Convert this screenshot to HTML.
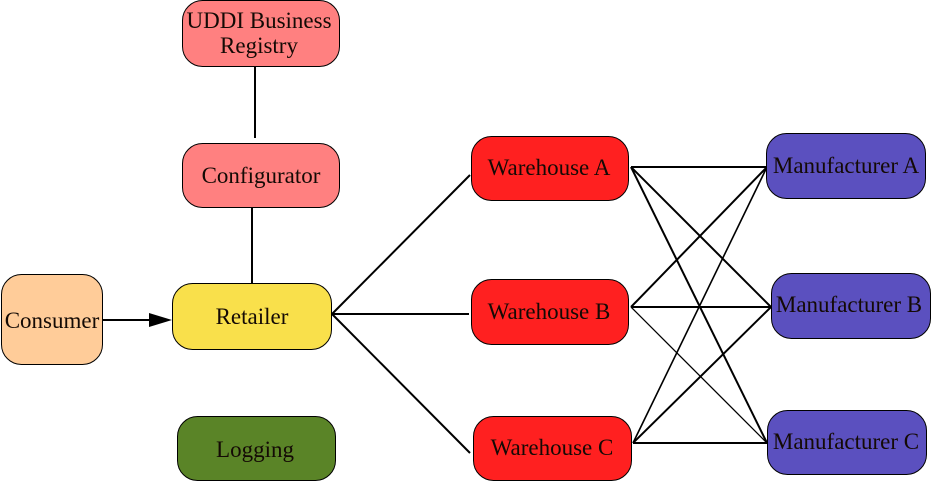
<!DOCTYPE html>
<html>
<head>
<meta charset="utf-8">
<style>
html,body{margin:0;padding:0;background:#fff;}
svg{display:block;}
text{font-family:"Liberation Serif","Times New Roman",serif;font-size:23px;fill:#140a05;}
</style>
</head>
<body>
<svg width="932" height="481" viewBox="0 0 932 481" xmlns="http://www.w3.org/2000/svg">
  <!-- connectors -->
  <g stroke="#000" stroke-width="2" fill="none">
    <line x1="255" y1="66" x2="255" y2="138"/>
    <line x1="252" y1="207" x2="252" y2="283"/>
    <line x1="102" y1="320" x2="150" y2="320"/>
    <line x1="332" y1="314" x2="470" y2="175"/>
    <line x1="332" y1="314" x2="469" y2="314"/>
    <line x1="332" y1="314" x2="470" y2="453"/>
    <line x1="631" y1="167" x2="767" y2="167"/>
    <line x1="631" y1="167" x2="771" y2="307"/>
    <line x1="631" y1="167" x2="767" y2="443"/>
    <line x1="631" y1="307" x2="767" y2="167"/>
    <line x1="631" y1="307" x2="771" y2="307"/>
    <line x1="631" y1="307" x2="767" y2="443" stroke-width="1.3"/>
    <line x1="633" y1="443" x2="767" y2="167" stroke-width="1.6"/>
    <line x1="633" y1="443" x2="771" y2="307"/>
    <line x1="633" y1="443" x2="767" y2="443"/>
  </g>
  <polygon points="149,313 172,320 149,327" fill="#000"/>

  <!-- nodes -->
  <g stroke="#000" stroke-width="1">
    <rect x="182.5" y="0.5" width="157" height="66" rx="20" fill="#FF8080"/>
    <rect x="182.5" y="143.5" width="157" height="64" rx="20" fill="#FF8080"/>
    <rect x="1.5" y="274.5" width="101" height="90" rx="20" fill="#FFCC99"/>
    <rect x="172.5" y="283.5" width="159" height="66" rx="20" fill="#F9E04B"/>
    <rect x="177.5" y="416.5" width="158" height="64" rx="20" fill="#5A8427"/>
    <rect x="471.5" y="136.5" width="157" height="64" rx="20" fill="#FF2020"/>
    <rect x="471.5" y="279.5" width="157" height="65" rx="20" fill="#FF2020"/>
    <rect x="473.5" y="416.5" width="158" height="64" rx="20" fill="#FF2020"/>
    <rect x="766.5" y="133.5" width="159" height="65" rx="20" fill="#5B50BF"/>
    <rect x="771.5" y="273.5" width="159" height="65" rx="20" fill="#5B50BF"/>
    <rect x="767.5" y="410.5" width="159" height="64" rx="20" fill="#5B50BF"/>
  </g>

  <!-- labels -->
  <g text-anchor="middle">
    <text x="259" y="28">UDDI Business</text>
    <text x="259" y="53">Registry</text>
    <text x="261" y="183">Configurator</text>
    <text x="52" y="328">Consumer</text>
    <text x="252" y="324">Retailer</text>
    <text x="255" y="457">Logging</text>
    <text x="549" y="175">Warehouse A</text>
    <text x="549" y="319">Warehouse B</text>
    <text x="552" y="455">Warehouse C</text>
    <text x="846" y="173">Manufacturer A</text>
    <text x="849" y="312">Manufacturer B</text>
    <text x="846" y="449">Manufacturer C</text>
  </g>
</svg>
</body>
</html>
